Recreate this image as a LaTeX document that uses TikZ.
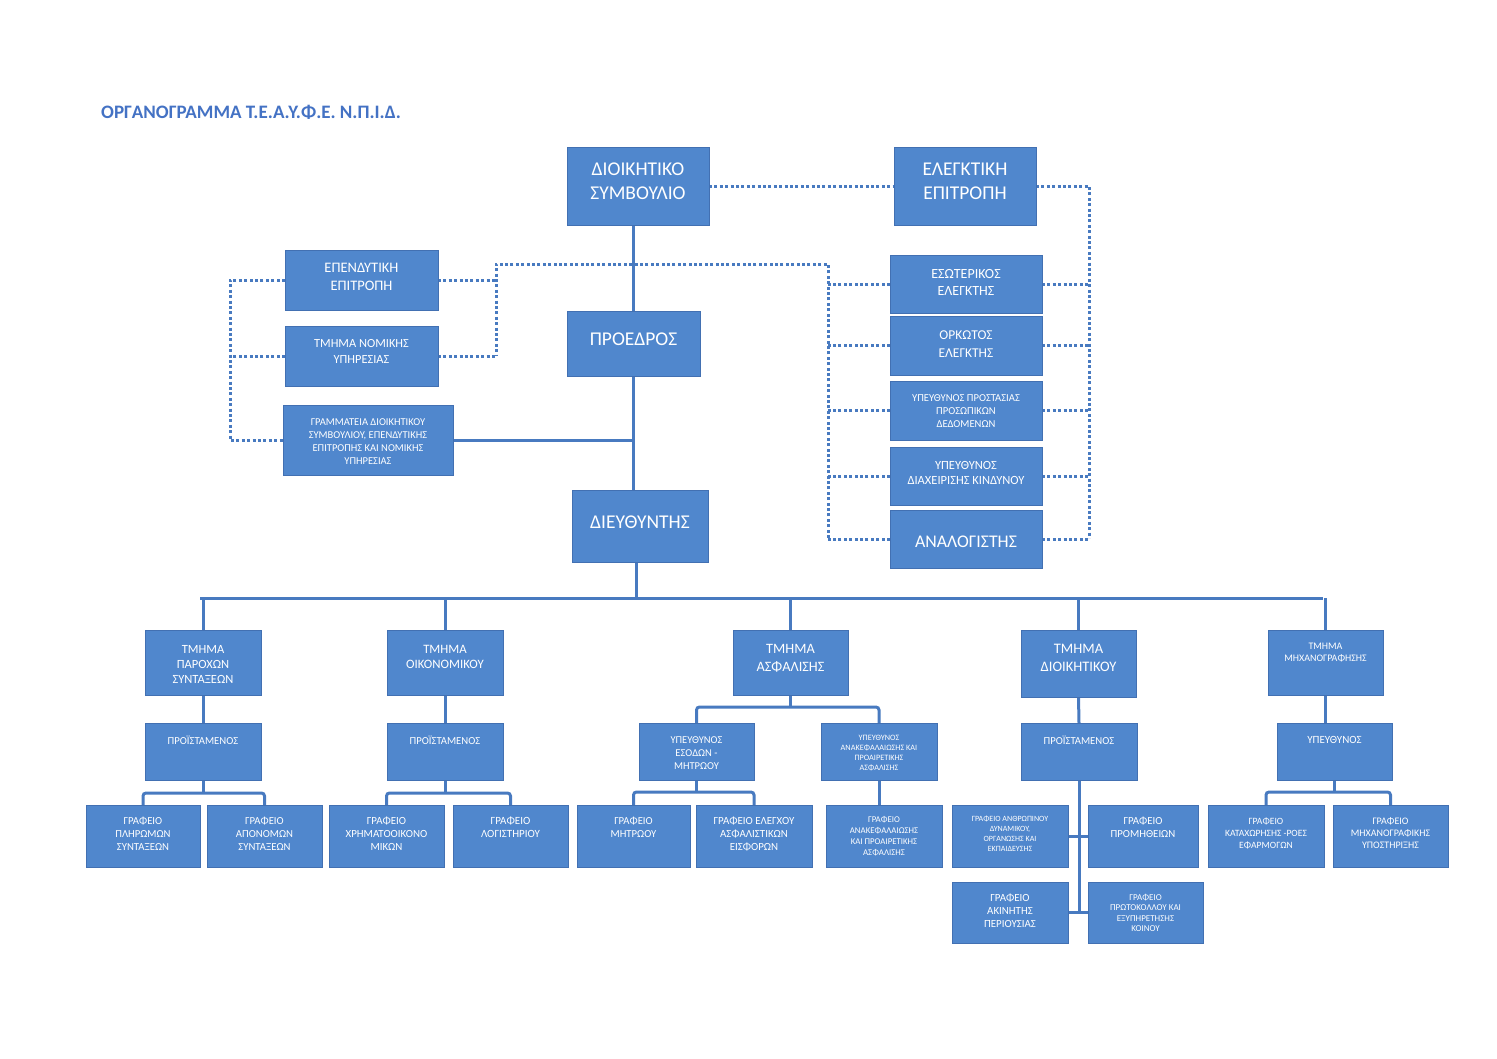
\documentclass[tikz,border=0pt]{standalone}
\usepackage{fontspec}
\setmainfont{Carlito}
\definecolor{boxfill}{RGB}{80,135,205}
\definecolor{boxedge}{RGB}{66,112,178}
\definecolor{lineblue}{RGB}{72,122,192}
\definecolor{titleblue}{RGB}{68,114,196}
\newcommand\fs[2]{\fontsize{#1}{#2}\selectfont}
\newcommand\bx[8]{%
  \node[box, minimum width={(#4-#2)*1pt}, minimum height={(#5-#3)*1pt}] (#1) at ({(#2+#4)/2},{(#3+#5)/2}) {};
  \node[txt, font={#7}] (#1t) at ({(#2+#4)/2},#6) {#8};
}
\pgfdeclarelayer{back}
\pgfdeclarelayer{lines}
\pgfsetlayers{back,lines,main}
\tikzset{
  box/.style={draw=boxedge, fill=boxfill, line width=1pt, inner sep=0pt, outer sep=0pt, rectangle},
  txt/.style={text=white, align=center, inner sep=0pt},
  conn/.style={draw=lineblue, line width=3pt},
  dotline/.style={draw=lineblue, line width=3pt, dash pattern=on 3pt off 2.4pt}
}
\begin{document}
\begin{tikzpicture}[x=1pt,y=-1pt]
\useasboundingbox (0,0) rectangle (1497,1058);
\begin{pgfonlayer}{back}
\fill[white] (0,0) rectangle (1497,1058);
\end{pgfonlayer}

\node[anchor=west, text=titleblue, font=\bfseries\fs{19}{22}, inner sep=0pt] (title) at (101,112) {ΟΡΓΑΝΟΓΡΑΜΜΑ Τ.Ε.Α.Υ.Φ.Ε. Ν.Π.Ι.Δ.};

% coordinates for connector free ends
\coordinate (ll) at (230,0);
\coordinate (mt) at (496,264);
\coordinate (lt) at (828,264);
\coordinate (lb) at (828,538);
\coordinate (rr) at (1089,538);
\coordinate (busL) at (200,598);
\coordinate (busR) at (1323,598);

% ---- boxes
\bx{ds}{567}{147}{709}{225}{181}{\fs{19.5}{24}}{ΔΙΟΙΚΗΤΙΚΟ\\ΣΥΜΒΟΥΛΙΟ}
\bx{el}{894}{147}{1036}{225}{181}{\fs{19.5}{24}}{ΕΛΕΓΚΤΙΚΗ\\ΕΠΙΤΡΟΠΗ}
\bx{pres}{567}{311}{700}{376}{339}{\fs{19.5}{22}}{ΠΡΟΕΔΡΟΣ}
\bx{dir}{572}{490}{708}{562}{522}{\fs{19.5}{22}}{ΔΙΕΥΘΥΝΤΗΣ}

\bx{ep}{285}{250}{438}{310}{277}{\fs{14.5}{18}}{ΕΠΕΝΔΥΤΙΚΗ\\ΕΠΙΤΡΟΠΗ}
\bx{nom}{285}{326}{438}{386}{351}{\fs{12.4}{16}}{ΤΜΗΜΑ ΝΟΜΙΚΗΣ\\ΥΠΗΡΕΣΙΑΣ}
\bx{gram}{283}{405}{453}{475}{441.5}{\fs{10.5}{13}}{ΓΡΑΜΜΑΤΕΙΑ ΔΙΟΙΚΗΤΙΚΟΥ\\ΣΥΜΒΟΥΛΙΟΥ, ΕΠΕΝΔΥΤΙΚΗΣ\\ΕΠΙΤΡΟΠΗΣ ΚΑΙ ΝΟΜΙΚΗΣ\\ΥΠΗΡΕΣΙΑΣ}

\bx{ra}{890}{255}{1042}{313}{282.5}{\fs{14}{17}}{ΕΣΩΤΕΡΙΚΟΣ\\ΕΛΕΓΚΤΗΣ}
\bx{rb}{890}{316}{1042}{375}{344}{\fs{13.5}{18}}{ΟΡΚΩΤΟΣ\\ΕΛΕΓΚΤΗΣ}
\bx{rc}{890}{381}{1042}{440}{411}{\fs{10.6}{13}}{ΥΠΕΥΘΥΝΟΣ ΠΡΟΣΤΑΣΙΑΣ\\ΠΡΟΣΩΠΙΚΩΝ\\ΔΕΔΟΜΕΝΩΝ}
\bx{rd}{890}{447}{1042}{505}{472.5}{\fs{12.5}{15}}{ΥΠΕΥΘΥΝΟΣ\\ΔΙΑΧΕΙΡΙΣΗΣ ΚΙΝΔΥΝΟΥ}
\bx{re}{890}{510}{1042}{568}{542}{\fs{17.8}{20}}{ΑΝΑΛΟΓΙΣΤΗΣ}

\bx{ta}{145}{630}{261}{695}{664}{\fs{12.5}{15}}{ΤΜΗΜΑ\\ΠΑΡΟΧΩΝ\\ΣΥΝΤΑΞΕΩΝ}
\bx{tb}{387}{630}{503}{695}{656.5}{\fs{12.8}{15}}{ΤΜΗΜΑ\\ΟΙΚΟΝΟΜΙΚΟΥ}
\bx{tc}{733}{630}{848}{695}{658}{\fs{14.3}{18}}{ΤΜΗΜΑ\\ΑΣΦΑΛΙΣΗΣ}
\bx{td}{1021}{630}{1136}{697}{658}{\fs{14.5}{18}}{ΤΜΗΜΑ\\ΔΙΟΙΚΗΤΙΚΟΥ}
\bx{te}{1268}{630}{1383}{695}{653}{\fs{10}{12}}{ΤΜΗΜΑ\\ΜΗΧΑΝΟΓΡΑΦΗΣΗΣ}

\bx{pa}{145}{723}{261}{780}{740}{\fs{10.7}{12}}{ΠΡΟΪΣΤΑΜΕΝΟΣ}
\bx{pb}{387}{723}{503}{780}{740}{\fs{10.7}{12}}{ΠΡΟΪΣΤΑΜΕΝΟΣ}
\bx{ya}{639}{723}{754}{780}{753}{\fs{10.5}{13}}{ΥΠΕΥΘΥΝΟΣ\\ΕΣΟΔΩΝ -\\ΜΗΤΡΩΟΥ}
\bx{yb}{821}{723}{937}{780}{753}{\fs{8.2}{10}}{ΥΠΕΥΘΥΝΟΣ\\ΑΝΑΚΕΦΑΛΑΙΩΣΗΣ ΚΑΙ\\ΠΡΟΑΙΡΕΤΙΚΗΣ\\ΑΣΦΑΛΙΣΗΣ}
\bx{pd}{1021}{723}{1137}{780}{740}{\fs{10.7}{12}}{ΠΡΟΪΣΤΑΜΕΝΟΣ}
\bx{pe}{1277}{723}{1392}{780}{740}{\fs{11}{12}}{ΥΠΕΥΘΥΝΟΣ}

\bx{gaa}{86}{805}{200}{867}{834}{\fs{10.7}{13}}{ΓΡΑΦΕΙΟ\\ΠΛΗΡΩΜΩΝ\\ΣΥΝΤΑΞΕΩΝ}
\bx{gab}{207}{805}{322}{867}{834}{\fs{10.7}{13}}{ΓΡΑΦΕΙΟ\\ΑΠΟΝΟΜΩΝ\\ΣΥΝΤΑΞΕΩΝ}
\bx{gba}{329}{805}{444}{867}{834}{\fs{10.9}{13}}{ΓΡΑΦΕΙΟ\\ΧΡΗΜΑΤΟΟΙΚΟΝΟ\\ΜΙΚΩΝ}
\bx{gbb}{453}{805}{568}{867}{827.5}{\fs{11}{13}}{ΓΡΑΦΕΙΟ\\ΛΟΓΙΣΤΗΡΙΟΥ}
\bx{gca}{577}{805}{690}{867}{827.5}{\fs{10.7}{13}}{ΓΡΑΦΕΙΟ\\ΜΗΤΡΩΟΥ}
\bx{gcb}{696}{805}{812}{867}{834}{\fs{10.9}{13}}{ΓΡΑΦΕΙΟ ΕΛΕΓΧΟΥ\\ΑΣΦΑΛΙΣΤΙΚΩΝ\\ΕΙΣΦΟΡΩΝ}
\bx{gcc}{826}{805}{942}{867}{836.5}{\fs{8.8}{11}}{ΓΡΑΦΕΙΟ\\ΑΝΑΚΕΦΑΛΑΙΩΣΗΣ\\ΚΑΙ ΠΡΟΑΙΡΕΤΙΚΗΣ\\ΑΣΦΑΛΙΣΗΣ}
\bx{gda}{952}{805}{1068}{867}{834}{\fs{8}{10}}{ΓΡΑΦΕΙΟ ΑΝΘΡΩΠΙΝΟΥ\\ΔΥΝΑΜΙΚΟΥ,\\ΟΡΓΑΝΩΣΗΣ ΚΑΙ\\ΕΚΠΑΙΔΕΥΣΗΣ}
\bx{gdb}{1088}{805}{1198}{867}{827.5}{\fs{10.8}{13}}{ΓΡΑΦΕΙΟ\\ΠΡΟΜΗΘΕΙΩΝ}
\bx{gdc}{952}{882}{1068}{943}{911}{\fs{10.9}{13}}{ΓΡΑΦΕΙΟ\\ΑΚΙΝΗΤΗΣ\\ΠΕΡΙΟΥΣΙΑΣ}
\bx{gdd}{1088}{882}{1203}{943}{913}{\fs{9}{10.5}}{ΓΡΑΦΕΙΟ\\ΠΡΩΤΟΚΟΛΛΟΥ ΚΑΙ\\ΕΞΥΠΗΡΕΤΗΣΗΣ\\ΚΟΙΝΟΥ}
\bx{gea}{1208}{805}{1324}{867}{833}{\fs{9.6}{12}}{ΓΡΑΦΕΙΟ\\ΚΑΤΑΧΩΡΗΣΗΣ -ΡΟΕΣ\\ΕΦΑΡΜΟΓΩΝ}
\bx{geb}{1333}{805}{1448}{867}{833}{\fs{10}{12}}{ΓΡΑΦΕΙΟ\\ΜΗΧΑΝΟΓΡΑΦΙΚΗΣ\\ΥΠΟΣΤΗΡΙΞΗΣ}

% ---- connectors, drawn on a layer under the boxes
\begin{pgfonlayer}{lines}
\draw[conn] (ds.south -| pres.north) -- (pres.north);
\draw[conn] (pres.south) -- (pres.south |- dir.north);
\draw[conn] (gram.east) -- (gram.east -| pres.south);
\draw[conn] (busL) -- (busR);
\draw[conn] (dir.south -| 636,0) -- (636,598);
\foreach \t in {ta,tb,tc,td,te} { \draw[conn] (\t.north) -- (\t.north |- busL); }

% dotted links
\draw[dotline] (ds.east) -- (el.west);
\draw[dotline] (el.east) -| (rr);
\draw[dotline] (lb) -- (lt) -- (mt) -- (mt |- nom.east);
\draw[dotline] (ep.west) -- (ep.west -| ll) -- (gram.west -| ll) -- (gram.west);
\draw[dotline] (nom.west) -- (nom.west -| ll);
\draw[dotline] (ep.east) -- (ep.east -| mt);
\draw[dotline] (nom.east) -- (nom.east -| mt);
\foreach \r in {ra,rb,rc,rd,re} {
  \draw[dotline] (\r.west) -- (\r.west -| lt);
  \draw[dotline] (\r.east) -- (\r.east -| rr);
}

% department sub-trees
\draw[conn] (ta.south) -- (pa.north);
\draw[conn] (tb.south) -- (pb.north);
\draw[conn] (td.south) -- (pd.north);
\draw[conn] (te.south) -- (te.south |- pe.north);

\coordinate (ja) at ([yshift=-13pt]pa.south);
\draw[conn] (pa.south) -- (ja);
\draw[conn, rounded corners=3pt] (gaa.north) |- (ja) -| (gab.north);
\coordinate (jb) at ([yshift=-13pt]pb.south);
\draw[conn] (pb.south) -- (jb);
\draw[conn, rounded corners=3pt] (gba.north) |- (jb) -| (gbb.north);
\coordinate (jc) at ([yshift=-12pt]tc.south);
\draw[conn] (tc.south) -- (jc);
\draw[conn, rounded corners=3pt] (ya.north) |- (jc) -| (yb.north);
\coordinate (jd) at ([yshift=-12pt]ya.south);
\draw[conn] (ya.south) -- (jd);
\draw[conn, rounded corners=3pt] (gca.north) |- (jd) -| (gcb.north);
\draw[conn] (yb.south) -- (yb.south |- gcc.north);
\coordinate (je) at ([yshift=-12pt]pe.south);
\draw[conn] (pe.south) -- (je);
\draw[conn, rounded corners=3pt] (gea.north) |- (je) -| (geb.north);

\draw[conn] (pd.south) -- (pd.south |- gdc.east);
\draw[conn] (gda.east) -- (gdb.west);
\draw[conn] (gdc.east) -- (gdd.west);
\end{pgfonlayer}
\end{tikzpicture}
\end{document}
